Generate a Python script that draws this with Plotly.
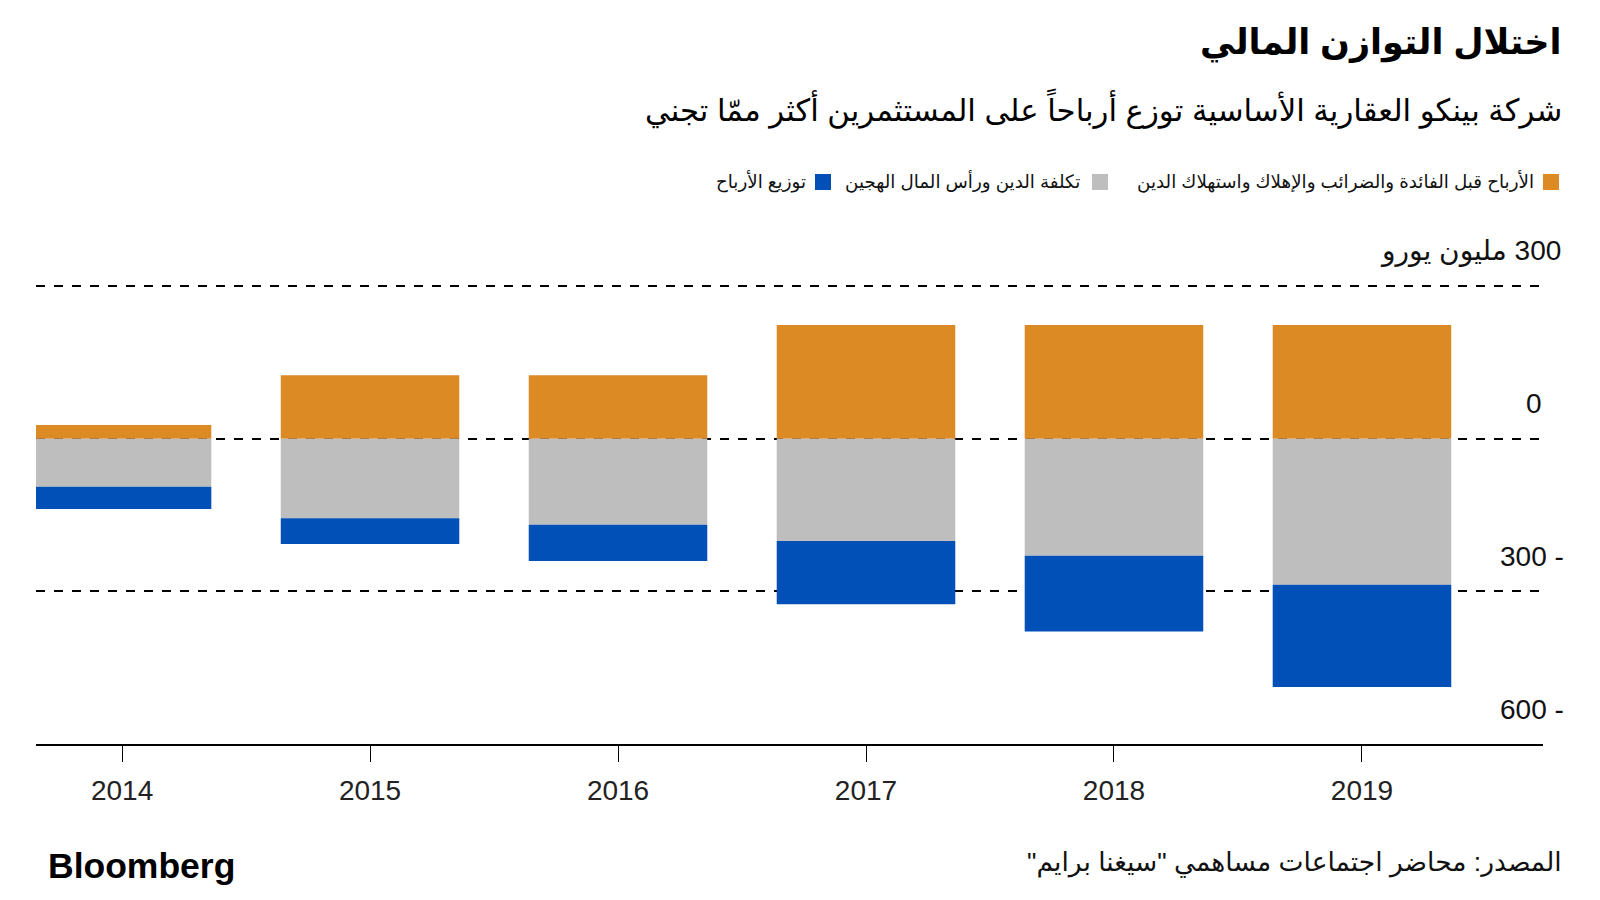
import plotly.graph_objects as go

years = ["2014", "2015", "2016", "2017", "2018", "2019"]
ebitda = [27, 125, 125, 224, 224, 224]
debt_cost = [-94, -156, -169, -201, -230, -287]
dividends = [-44, -51, -71, -124, -149, -201]

series_names = [
    "الأرباح قبل الفائدة والضرائب والإهلاك واستهلاك الدين",
    "تكلفة الدين ورأس المال الهجين",
    "توزيع الأرباح",
]
colors = ["#DB8A24", "#BEBEBE", "#0050B8"]

y_ticks = [300, 0, -300, -600]
y_tick_text = ["300 مليون يورو", "0", "300 -", "600 -"]

FONT = "Liberation Sans, DejaVu Sans, sans-serif"
RLE, PDF = "\u202b", "\u202c"


def rtl(s):
    return RLE + s + PDF


fig = go.Figure()
for vals, name, col in zip([ebitda, debt_cost, dividends], series_names, colors):
    fig.add_trace(go.Bar(x=years, y=vals, name=name, marker=dict(color=col, line=dict(width=0)),
                         width=0.72, showlegend=False))

W, H = 1600, 900
ml, mr, mt, mb = 36, 57, 271, 156
pw = W - ml - mr
ph = H - mt - mb


def px_x(x):
    return (x - ml) / pw


def px_y(y):
    return (H - mb - y) / ph


fig.update_layout(
    width=W, height=H,
    barmode="relative",
    plot_bgcolor="white", paper_bgcolor="white",
    margin=dict(l=ml, r=mr, t=mt, b=mb, autoexpand=False),
    font=dict(family=FONT, color="#111"),
    xaxis=dict(type="category", range=[-0.347, 5.73], showline=True, linecolor="black",
               linewidth=2, ticks="outside", ticklen=16, tickcolor="black", tickwidth=1,
               tickfont=dict(size=28, color="#222"), showgrid=False, fixedrange=True,
               ticklabelstandoff=4),
    yaxis=dict(range=[-600, 330], tickvals=[300, 0, -300], showticklabels=False,
               showgrid=True, gridcolor="black", gridwidth=2, griddash="dash",
               zeroline=False, showline=False, fixedrange=True),
)

# y tick labels (right side, above gridlines)
label_x = [1563, 1544, 1566, 1566]
for v, t, lx in zip(y_ticks, y_tick_text, label_x):
    txt = rtl(t) if any("\u0600" <= ch <= "\u06ff" for ch in t) else t
    fig.add_annotation(x=px_x(lx), xref="paper", xanchor="right", y=v, yref="y",
                       yanchor="middle", yshift=35, text=txt, showarrow=False,
                       font=dict(size=28, color="#111", family=FONT))

# title & subtitle
fig.add_annotation(x=px_x(1564), xref="paper", xanchor="right", y=px_y(42), yref="paper",
                   yanchor="middle", text="<b>" + rtl("اختلال التوازن المالي") + "</b>",
                   showarrow=False, font=dict(size=35, color="#000", family=FONT))
fig.add_annotation(x=px_x(1564), xref="paper", xanchor="right", y=px_y(109), yref="paper",
                   yanchor="middle",
                   text=rtl("شركة بينكو العقارية الأساسية توزع أرباحاً على المستثمرين أكثر ممّا تجني"),
                   showarrow=False, font=dict(size=30.8, color="#000", family=FONT))

# custom RTL legend
sq_centers = [1551, 1100, 823]
text_right = [1536, 1082, 808]
for cx, tr, name, col in zip(sq_centers, text_right, series_names, colors):
    fig.add_shape(type="rect", xref="paper", yref="paper",
                  x0=px_x(cx - 8), x1=px_x(cx + 8), y0=px_y(190), y1=px_y(174),
                  fillcolor=col, line=dict(width=0))
    fig.add_annotation(x=px_x(tr), xref="paper", xanchor="right", y=px_y(181), yref="paper",
                       yanchor="middle", text=rtl(name), showarrow=False,
                       font=dict(size=18.3, color="#111", family=FONT))

# footer
fig.add_annotation(x=px_x(46), xref="paper", xanchor="left", y=px_y(866), yref="paper",
                   yanchor="middle", text="<b>Bloomberg</b>", showarrow=False,
                   font=dict(size=35.5, color="#000", family="Liberation Sans, Arial, sans-serif"))
fig.add_annotation(x=px_x(1564), xref="paper", xanchor="right", y=px_y(862), yref="paper",
                   yanchor="middle", text=rtl('المصدر: محاضر اجتماعات مساهمي "سيغنا برايم"'),
                   showarrow=False, font=dict(size=26.5, color="#111", family=FONT))

fig.write_html("out.html")
